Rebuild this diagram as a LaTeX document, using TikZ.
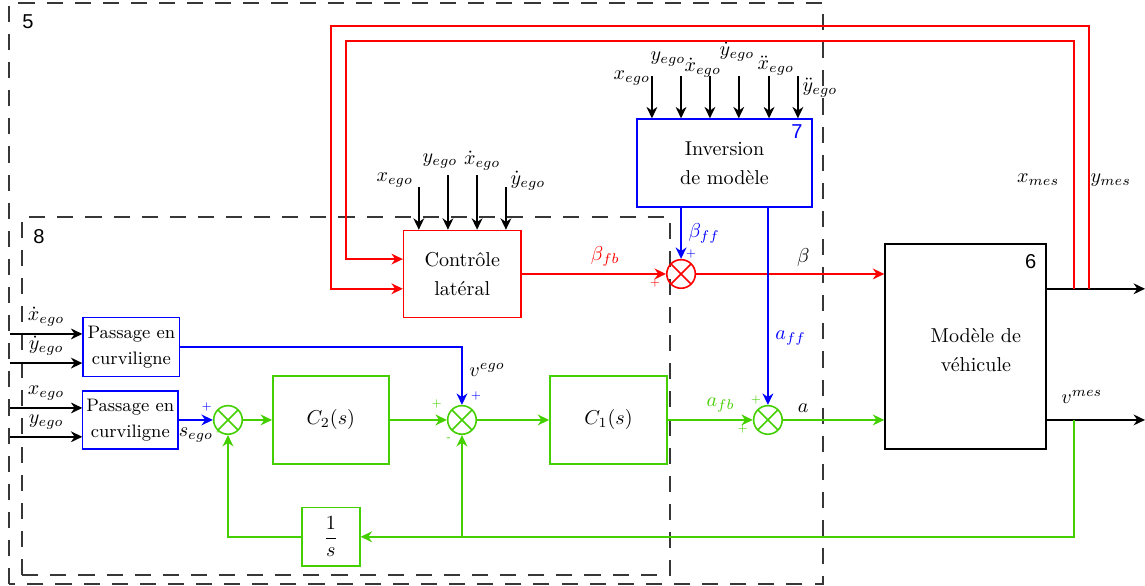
\documentclass[tikz,border=0pt]{standalone}
\usepackage{amsmath,amssymb}
\usepackage{fontspec}
\usepackage{tikz}
\usetikzlibrary{arrows.meta,positioning,calc}
\newfontfamily\tagfont{Liberation Sans}
\definecolor{loopgreen}{RGB}{68,208,0}
\definecolor{framegray}{RGB}{55,55,55}

\begin{document}
\begin{tikzpicture}[
    block/.style={
      rectangle, draw=#1, thick, align=center, inner sep=2pt
    },
    sum/.style={
      circle, draw=#1, thick, minimum size=5mm, inner sep=0pt,
      path picture={\draw[#1, thick]
        (path picture bounding box.south west) -- (path picture bounding box.north east)
        (path picture bounding box.north west) -- (path picture bounding box.south east);}
    },
    arrow/.style={-{Stealth[length=2mm, width=1.9mm]}, thick},
    zone/.style={draw=framegray, line width=0.9pt, dash pattern=on 8pt off 6pt},
    tag/.style={font=\tagfont, inner sep=0pt},
    sign/.style={font=\tiny, inner sep=0pt}
  ]
  \useasboundingbox (0,0) rectangle (20.04,10.255);

  \draw[zone] (0.16,0.03) rectangle (14.40,10.20);
  \draw[zone] (0.385,0.19) rectangle (11.725,6.46);
  \node[tag] (t5) at (0.49,9.87) {5};
  \node[tag] (t8) at (0.68,6.12) {8};

  \node[block=red, minimum width=2.05cm, minimum height=1.52cm] (ctrl) at (8.09,5.46) {Contrôle\\[2.5pt]latéral};
  \node[block=blue, minimum width=3.06cm, minimum height=1.54cm] (inv) at (12.68,7.40) {Inversion\\[2.5pt]de modèle};
  \node[block=black, minimum width=2.82cm, minimum height=3.59cm] (veh) at (16.90,4.19) {};
  \node[align=center] (vehtxt) at (17.08,4.13) {Modèle de\\[2.5pt]véhicule};
  \node[tag] (t6) at (18.04,5.67) {6};
  \node[tag, text=blue] (t7) at (13.95,7.945) {7};

  \node[block=blue, font=\small, minimum width=1.69cm, minimum height=1.03cm] (pass1) at (2.30,4.18) {Passage en\\[2pt]curviligne};
  \node[block=blue, font=\small, minimum width=1.67cm, minimum height=1.02cm] (pass2) at (2.28,2.905) {Passage en\\[2pt]curviligne};
  \node[sum=loopgreen] (sums) at (3.99,2.905) {};
  \node[block=loopgreen, minimum width=2.03cm, minimum height=1.54cm] (ctwo) at (5.79,2.905) {$C_2(s)$};
  \node[sum=loopgreen] (sumv) at (8.085,2.905) {};
  \node[block=loopgreen, minimum width=2.05cm, minimum height=1.54cm] (cone) at (10.65,2.905) {$C_1(s)$};
  \node[sum=loopgreen] (suma) at (13.44,2.905) {};
  \node[sum=red] (sumb) at (11.92,5.46) {};
  \node[block=loopgreen, minimum width=1.015cm, minimum height=1.03cm] (integ) at (5.79,0.86) {$\dfrac{1}{s}$};

  % inputs
  \foreach \y/\n/\t in {4.41/1/\dot{x}_{ego}, 3.90/2/\dot{y}_{ego}, 3.115/3/x_{ego}, 2.61/4/y_{ego}} {
    \coordinate (pin\n) at (0.175,\y);
    \draw[arrow] (pin\n) -- (pin\n -| pass1.west) node[midway, above] (lpin\n) {$\t$};
  }
  \foreach \x/\y/\n in {7.33/6.98/1, 7.84/7.19/2, 8.35/7.19/3, 8.855/6.98/4} {
    \coordinate (cin\n) at (\x,\y);
    \draw[arrow] (cin\n) -- (cin\n |- ctrl.north);
  }
  \node (lcin1) at (6.91,7.105) {$x_{ego}$};
  \node (lcin2) at (7.70,7.44) {$y_{ego}$};
  \node (lcin3) at (8.44,7.44) {$\dot{x}_{ego}$};
  \node (lcin4) at (9.24,7.09) {$\dot{y}_{ego}$};
  \foreach \x/\n in {11.41/1, 11.92/2, 12.425/3, 12.93/4, 13.46/5, 13.965/6} {
    \coordinate (iin\n) at (\x,8.925);
    \draw[arrow] (iin\n) -- (iin\n |- inv.north);
  }
  \node (liin1) at (11.06,8.89) {$x_{ego}$};
  \node (liin2) at (11.69,9.22) {$y_{ego}$};
  \node (liin3) at (12.30,9.065) {$\dot{x}_{ego}$};
  \node (liin4) at (12.90,9.345) {$\dot{y}_{ego}$};
  \node (liin5) at (13.58,9.10) {$\ddot{x}_{ego}$};
  \node (liin6) at (14.35,8.715) {$\ddot{y}_{ego}$};

  % lateral
  \draw[arrow, red] (ctrl) -- (sumb) node[pos=0.58, above] (lbfb) {$\beta_{fb}$};
  \draw[arrow, red] (sumb) -- (sumb -| veh.west) node[pos=0.57, above, text=black] (lb) {$\beta$};
  \draw[arrow, blue] (inv.south -| sumb) -- (sumb) node[midway, right] (lbff) {$\beta_{ff}$};

  % longitudinal
  \draw[arrow, blue] (pass1) -| (sumv) node[pos=0.7, right, text=black] (lvego) {$v^{ego}$};
  \draw[arrow, blue] (pass2) -- (sums) node[midway, below, text=black] (lsego) {$s_{ego}$};
  \draw[arrow, loopgreen] (sums) -- (ctwo);
  \draw[arrow, loopgreen] (ctwo) -- (sumv);
  \draw[arrow, loopgreen] (sumv) -- (cone);
  \draw[arrow, loopgreen] (cone) -- (suma) node[pos=0.62, above] (lafb) {$a_{fb}$};
  \draw[arrow, blue] (inv.south -| suma) -- (suma) node[pos=0.66, right] (laff) {$a_{ff}$};
  \draw[arrow, loopgreen] (suma) -- (suma -| veh.west) node[pos=0.2, above, text=black] (la) {$a$};

  % outputs and feedback
  \coordinate (outp) at (20.04,5.20);
  \coordinate (outv) at (20.04,2.905);
  \draw[arrow] (veh.east |- outp) -- (outp);
  \draw[arrow] (veh.east |- outv) -- (outv);
  \coordinate (tapx) at (18.80,5.20);
  \coordinate (tapy) at (19.06,5.20);
  \coordinate (tapv) at (18.80,2.905);
  \draw[arrow, red] (tapx) |- (6.055,9.54) |- ($(ctrl.west)+(0,0.26)$);
  \draw[arrow, red] (tapy) |- (5.79,9.80) |- ($(ctrl.west)+(0,-0.26)$);
  \node (lxmes) at (18.17,7.105) {$x_{mes}$};
  \node (lymes) at (19.44,7.105) {$y_{mes}$};
  \node (lvmes) at (18.935,3.31) {$v^{mes}$};
  \draw[arrow, loopgreen] (tapv) |- (integ);
  \draw[arrow, loopgreen] (integ) -| (sums);
  \draw[arrow, loopgreen] (sumv |- integ) -- (sumv);

  % signs
  \node[sign, text=blue] (ps1) at ($(sums)+(-0.37,0.23)$) {+};
  \node[sign, text=loopgreen] (ps2) at ($(sums)+(-0.16,-0.23)$) {-};
  \node[sign, text=loopgreen] (pv1) at ($(sumv)+(-0.44,0.28)$) {+};
  \node[sign, text=blue] (pv2) at ($(sumv)+(0.245,0.42)$) {+};
  \node[sign, text=loopgreen] (pv3) at ($(sumv)+(-0.23,-0.33)$) {-};
  \node[sign, text=loopgreen] (pa1) at ($(suma)+(-0.21,0.35)$) {+};
  \node[sign, text=loopgreen] (pa2) at ($(suma)+(-0.44,-0.16)$) {+};
  \node[sign, text=blue] (pb1) at ($(sumb)+(0.175,0.35)$) {+};
  \node[sign, text=red] (pb2) at ($(sumb)+(-0.455,-0.16)$) {+};
\end{tikzpicture}
\end{document}
